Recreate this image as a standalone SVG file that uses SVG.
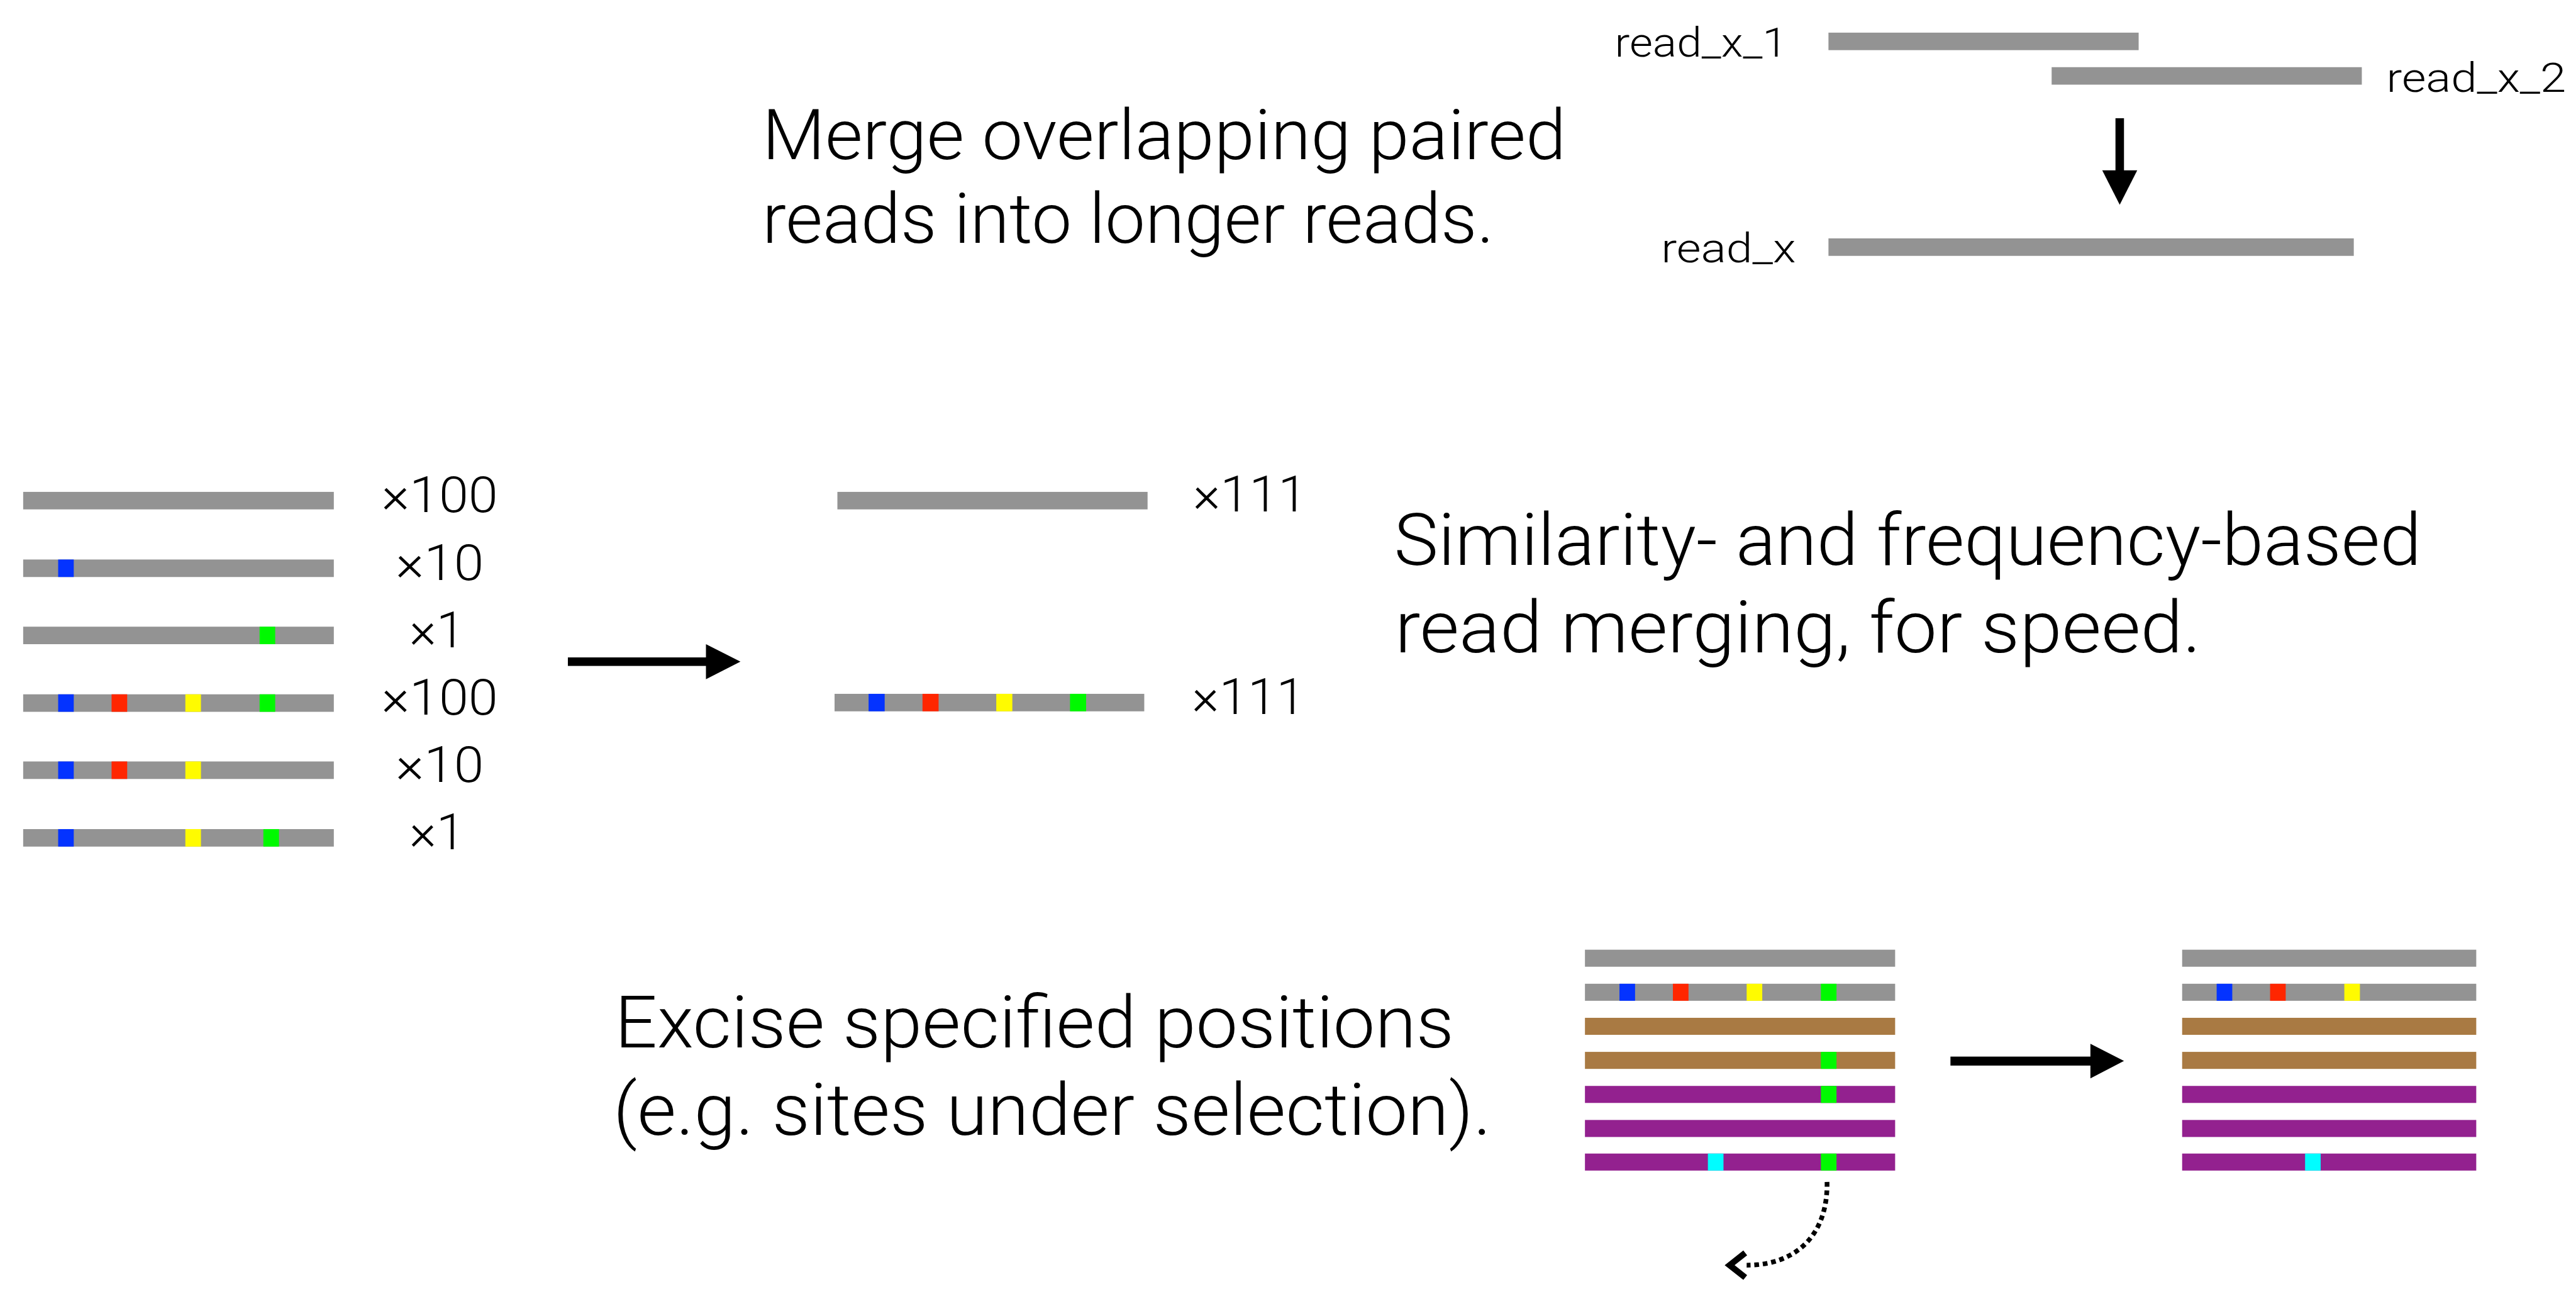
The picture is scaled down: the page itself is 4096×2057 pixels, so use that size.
<svg xmlns="http://www.w3.org/2000/svg" width="4096" height="2057" viewBox="0 0 4096 2057">
<style>
.t{font-family:Roboto,"Liberation Sans",Arial,sans-serif;font-weight:300;fill:#000}
.big{font-size:147px}
.mid{font-size:153px}
.lab{font-size:106px}
.rl{font-size:86px}
.g{fill:#939393}
.br{fill:#A97A43}
.pu{fill:#93218F}
.b{fill:#0433FF}
.r{fill:#FF2600}
.y{fill:#FFFB00}
.gr{fill:#00F900}
.c{fill:#00FDFF}
.k{fill:#000}
</style>
<rect width="4096" height="2057" fill="#fff"/>
<g transform="scale(0.75184)">
<g id="merge-text">
<text class="t big" x="1612" y="336" textLength="1700" lengthAdjust="spacingAndGlyphs">Merge overlapping paired</text>
<text class="t big" x="1612" y="513" textLength="1548" lengthAdjust="spacingAndGlyphs">reads into longer reads.</text>
</g>
<g id="read-x-1">
<rect class="g" x="3867" y="69" width="656" height="37"/>
<text class="t rl" x="3415" y="120" textLength="365" lengthAdjust="spacingAndGlyphs">read_x_1</text>
</g>
<g id="read-x-2">
<rect class="g" x="4339" y="142" width="656" height="37"/>
<text class="t rl" x="5047" y="194" textLength="380" lengthAdjust="spacingAndGlyphs">read_x_2</text>
</g>
<g id="read-x">
<rect class="g" x="3867" y="504" width="1111" height="37"/>
<text class="t rl" x="3513" y="554" textLength="285" lengthAdjust="spacingAndGlyphs">read_x</text>
</g>
<g id="similarity-text">
<text class="t mid" x="2948" y="1195" textLength="2173" lengthAdjust="spacingAndGlyphs">Similarity- and frequency-based</text>
<text class="t mid" x="2950" y="1379" textLength="1705" lengthAdjust="spacingAndGlyphs">read merging, for speed.</text>
</g>
<g id="input-reads">
<rect class="g" x="49" y="1040" width="657" height="37"/>
<rect class="g" x="49" y="1183" width="657" height="37"/>
<rect class="b" x="123" y="1183" width="33" height="37"/>
<rect class="g" x="49" y="1325" width="657" height="37"/>
<rect class="gr" x="549" y="1325" width="33" height="37"/>
<rect class="g" x="49" y="1468" width="657" height="37"/>
<rect class="b" x="123" y="1468" width="33" height="37"/>
<rect class="r" x="236" y="1468" width="33" height="37"/>
<rect class="y" x="392" y="1468" width="33" height="37"/>
<rect class="gr" x="549" y="1468" width="33" height="37"/>
<rect class="g" x="49" y="1610" width="657" height="37"/>
<rect class="b" x="123" y="1610" width="33" height="37"/>
<rect class="r" x="236" y="1610" width="33" height="37"/>
<rect class="y" x="392" y="1610" width="33" height="37"/>
<rect class="g" x="49" y="1753" width="657" height="37"/>
<rect class="b" x="123" y="1753" width="33" height="37"/>
<rect class="y" x="392" y="1753" width="33" height="37"/>
<rect class="gr" x="557" y="1753" width="33" height="37"/>
<text class="t lab" x="807" y="1083" textLength="246" lengthAdjust="spacingAndGlyphs">×100</text>
<text class="t lab" x="837" y="1226" textLength="186" lengthAdjust="spacingAndGlyphs">×10</text>
<text class="t lab" x="866" y="1368" textLength="117" lengthAdjust="spacingAndGlyphs">×1</text>
<text class="t lab" x="807" y="1511" textLength="246" lengthAdjust="spacingAndGlyphs">×100</text>
<text class="t lab" x="837" y="1653" textLength="186" lengthAdjust="spacingAndGlyphs">×10</text>
<text class="t lab" x="866" y="1796" textLength="117" lengthAdjust="spacingAndGlyphs">×1</text>
</g>
<g id="merged-reads">
<rect class="g" x="1771" y="1040" width="656" height="37"/>
<rect class="g" x="1765" y="1467" width="655" height="37"/>
<rect class="b" x="1837" y="1467" width="34" height="37"/>
<rect class="r" x="1951" y="1467" width="34" height="37"/>
<rect class="y" x="2107" y="1467" width="34" height="37"/>
<rect class="gr" x="2263" y="1467" width="34" height="37"/>
<text class="t lab" x="2523" y="1081" textLength="241" lengthAdjust="spacingAndGlyphs">×111</text>
<text class="t lab" x="2521" y="1509" textLength="239" lengthAdjust="spacingAndGlyphs">×111</text>
</g>
<g id="excise-text">
<text class="t mid" x="1300" y="2215" textLength="1775" lengthAdjust="spacingAndGlyphs">Excise specified positions</text>
<text class="t mid" x="1297" y="2399" textLength="1857" lengthAdjust="spacingAndGlyphs">(e.g. sites under selection).</text>
</g>
<g id="alignment-before">
<rect class="g" x="3352" y="2008" width="656" height="36"/>
<rect class="g" x="3352" y="2080" width="656" height="36"/>
<rect class="b" x="3425" y="2080" width="33" height="36"/>
<rect class="r" x="3538" y="2080" width="33" height="36"/>
<rect class="y" x="3694" y="2080" width="33" height="36"/>
<rect class="gr" x="3851" y="2080" width="33" height="36"/>
<rect class="br" x="3352" y="2152" width="656" height="36"/>
<rect class="br" x="3352" y="2224" width="656" height="36"/>
<rect class="gr" x="3851" y="2224" width="33" height="36"/>
<rect class="pu" x="3352" y="2296" width="656" height="36"/>
<rect class="gr" x="3851" y="2296" width="33" height="36"/>
<rect class="pu" x="3352" y="2368" width="656" height="36"/>
<rect class="pu" x="3352" y="2439" width="656" height="36"/>
<rect class="c" x="3612" y="2439" width="33" height="36"/>
<rect class="gr" x="3851" y="2439" width="33" height="36"/>
</g>
<g id="alignment-after">
<rect class="g" x="4615" y="2008" width="622" height="36"/>
<rect class="g" x="4615" y="2080" width="622" height="36"/>
<rect class="b" x="4688" y="2080" width="33" height="36"/>
<rect class="r" x="4801" y="2080" width="33" height="36"/>
<rect class="y" x="4958" y="2080" width="33" height="36"/>
<rect class="br" x="4615" y="2152" width="622" height="36"/>
<rect class="br" x="4615" y="2224" width="622" height="36"/>
<rect class="pu" x="4615" y="2296" width="622" height="36"/>
<rect class="pu" x="4615" y="2368" width="622" height="36"/>
<rect class="pu" x="4615" y="2439" width="622" height="36"/>
<rect class="c" x="4875" y="2439" width="33" height="36"/>
</g>
<g id="connectors">
<rect class="k" x="4474" y="250" width="18" height="112"/>
<polygon class="k" points="4446,360 4520,360 4483,433"/>
<rect class="k" x="1201" y="1390" width="294" height="18"/>
<polygon class="k" points="1493,1362 1493,1436 1566,1399"/>
<rect class="k" x="4125" y="2234" width="298" height="19"/>
<polygon class="k" points="4421,2207 4421,2280 4492,2243"/>
<path d="M3864,2499 C3866,2610 3800,2675 3694,2675" fill="none" stroke="#000" stroke-width="10" stroke-dasharray="10 8"/>
<polyline points="3691,2649 3658,2675 3691,2701" fill="none" stroke="#000" stroke-width="13" stroke-linejoin="miter"/>
</g>
</g>
</svg>
